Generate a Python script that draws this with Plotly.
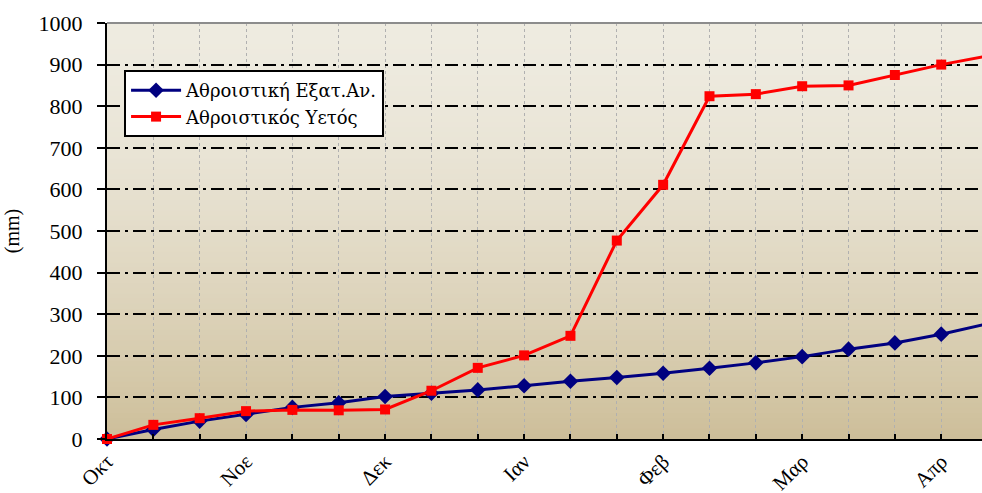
import plotly.graph_objects as go

# ---- data ----
tick_labels = ["Οκτ", "", "", "Νοε", "", "", "Δεκ", "", "", "Ιαν", "", "",
               "Φεβ", "", "", "Μαρ", "", "", "Απρ", ""]
x_idx = list(range(len(tick_labels)))
evap_cum = [0, 23, 43, 59, 76, 87, 102, 110, 118, 128, 139, 148, 158, 170,
            183, 198, 216, 231, 252, 277]
rain_cum = [0, 34, 50, 67, 70, 69, 71, 116, 171, 201, 248, 477, 611, 824,
            829, 848, 850, 875, 900, 921]
name_evap = "Αθροιστική Εξατ.Αν."
name_rain = "Αθροιστικός Υετός"

FONT = "Liberation Serif"

fig = go.Figure()
fig.add_trace(go.Scatter(
    x=x_idx, y=evap_cum, name=name_evap, mode="lines+markers",
    line=dict(color="#000080", width=3),
    marker=dict(symbol="diamond", size=12, color="#000080"),
    cliponaxis=False))
fig.add_trace(go.Scatter(
    x=x_idx, y=rain_cum, name=name_rain, mode="lines+markers",
    line=dict(color="#FF0000", width=3),
    marker=dict(symbol="square", size=10, color="#FF0000"),
    cliponaxis=False))

# background gradient (plot area)
top = (238, 235, 224)
bot = (205, 190, 153)
n = 80
shapes = []
for i in range(n):
    t0 = i / n
    t1 = (i + 1) / n
    tm = 1 - (t0 + t1) / 2  # 0 at top, 1 at bottom
    f = tm ** 1.6
    c = tuple(round(top[k] + (bot[k] - top[k]) * f) for k in range(3))
    shapes.append(dict(type="rect", xref="x domain", yref="y domain",
                       x0=0, x1=1, y0=t0, y1=t1 + 0.002, layer="below",
                       line=dict(width=0), fillcolor="rgb(%d,%d,%d)" % c))
# top border of the plot area
shapes.append(dict(type="line", xref="x domain", yref="y domain",
                   x0=0, x1=1, y0=1, y1=1, layer="above",
                   line=dict(color="#8C8C8C", width=2)))

fig.update_layout(
    width=982, height=493,
    margin=dict(l=107, r=0, t=23, b=54, autoexpand=False),
    paper_bgcolor="white",
    plot_bgcolor="rgb(238,235,224)",
    shapes=shapes,
    showlegend=True,
    legend=dict(x=0.0195, y=0.887, xanchor="left", yanchor="top",
                bgcolor="white", bordercolor="black", borderwidth=2,
                font=dict(family="DejaVu Serif", size=18, color="black"),
                tracegroupgap=0, itemwidth=50),
    font=dict(family=FONT, color="black"),
)

fig.update_xaxes(
    range=[0, 18.88], automargin=False,
    tickmode="array", tickvals=x_idx, ticktext=tick_labels,
    tickangle=-45,
    ticks="inside", ticklen=5, tickwidth=2, tickcolor="black",
    tickfont=dict(family=FONT, size=21, color="black"),
    showline=True, linecolor="black", linewidth=2,
    showgrid=True, gridcolor="#B0B0B0", gridwidth=1, griddash="dot",
    zeroline=False,
)
fig.update_yaxes(
    range=[0, 1000], dtick=100, tick0=0, automargin=False,
    ticks="outside", ticklen=8, tickwidth=2, tickcolor="black",
    tickfont=dict(family=FONT, size=22, color="black"),
    ticklabelstandoff=10,
    showline=True, linecolor="black", linewidth=2,
    showgrid=True, gridcolor="black", gridwidth=2,
    griddash="13px,5px,3px,5px",
    zeroline=False,
    title=dict(text="(mm)", font=dict(family=FONT, size=20, color="black"),
               standoff=14),
)

fig.write_html(
    "out.html",
    config={"displayModeBar": False},
    post_script=("document.body.style.margin='0';"
                 "document.documentElement.style.overflow='hidden';"
                 "document.body.style.overflow='hidden';"),
)
